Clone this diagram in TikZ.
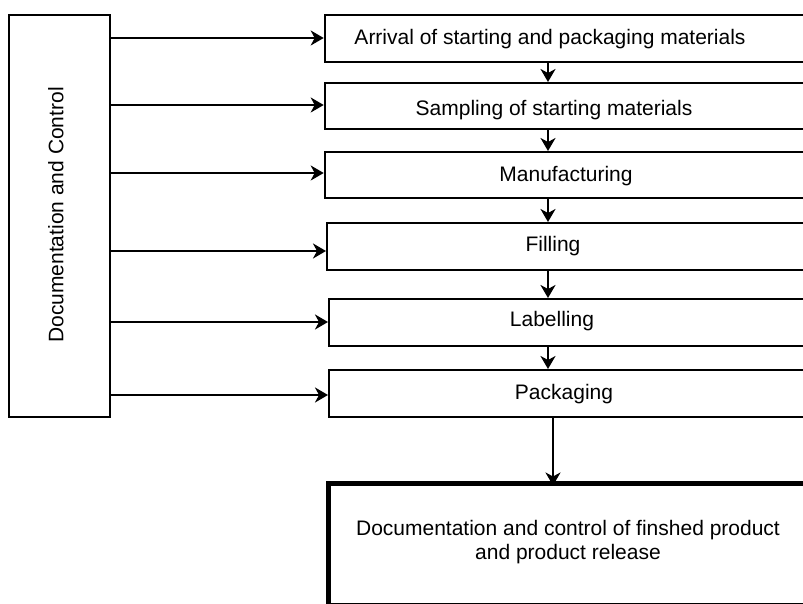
\documentclass[tikz,border=0pt]{standalone}
\usepackage{fontspec}
\setmainfont{Liberation Sans}
\usetikzlibrary{arrows.meta}
\begin{document}
\begin{tikzpicture}[x=1pt,y=-1pt,
  box/.style={draw=black,line width=2.2pt,rectangle,inner sep=0pt,anchor=north west,minimum width=520pt},
  bigbox/.style={draw=black,line width=1.5pt,rectangle,inner sep=0pt,anchor=north west,minimum width=520pt},
  thickedge/.style={line width=5pt,line cap=rect},
  lbl/.style={inner sep=0pt,anchor=base,font=\fontsize{21}{25}\selectfont},
  arr/.style={line width=2.2pt,-{Stealth[length=13pt,width=15pt,inset=4pt]}}]
\useasboundingbox (0,0) rectangle (803,604);
\clip (0,0) rectangle (803,604);
\fill[white] (0,0) rectangle (803,604);
% left box
\node[box,minimum width=101pt,minimum height=402pt] (dc) at (8,14) {};
\node[lbl,rotate=90] (dct) at (63.3,215) {Documentation and Control};
% right boxes
\node[box,minimum height=47pt] (b1) at (323.7,14) {};
\node[box,minimum height=46pt] (b2) at (323.7,82) {};
\node[box,minimum height=46pt] (b3) at (323.7,151) {};
\node[box,minimum height=47pt] (b4) at (326,222) {};
\node[box,minimum height=47pt] (b5) at (328,298) {};
\node[box,minimum height=47pt] (b6) at (328,369) {};
\node[bigbox,minimum height=119pt] (fin) at (328.5,483.5) {};
\draw[thickedge] (fin.south west) -- (fin.north west) -- (fin.north east);
% labels
\node[lbl] (t1) at (550,45) {Arrival of starting and packaging materials};
\node[lbl] (t2) at (554,116) {Sampling of starting materials};
\node[lbl] (t3) at (566,182) {Manufacturing};
\node[lbl] (t4) at (553,251.5) {Filling};
\node[lbl] (t5) at (552,326.5) {Labelling};
\node[lbl] (t6) at (564,399) {Packaging};
\node[lbl,align=center,font=\fontsize{21}{24.5}\selectfont] (t7) at (568,559.5) {Documentation and control of finshed product\\and product release};
% helper coordinates
\coordinate (vx) at (548,0);
\coordinate (vf) at (553,0);
\coordinate (h1) at (0,38);
\coordinate (h2) at (0,105);
\coordinate (h3) at (0,173);
\coordinate (h4) at (0,251);
\coordinate (h5) at (0,322);
\coordinate (h6) at (0,395);
% horizontal arrows
\draw[arr] (dc.east |- h1) -- (b1.west |- h1);
\draw[arr] (dc.east |- h2) -- (b2.west |- h2);
\draw[arr] (dc.east |- h3) -- (b3.west |- h3);
\draw[arr] (dc.east |- h4) -- (b4.west |- h4);
\draw[arr] (dc.east |- h5) -- (b5.west |- h5);
\draw[arr] (dc.east |- h6) -- (b6.west |- h6);
% vertical arrows
\draw[arr] (b1.south -| vx) -- (b2.north -| vx);
\draw[arr] (b2.south -| vx) -- (b3.north -| vx);
\draw[arr] (b3.south -| vx) -- (b4.north -| vx);
\draw[arr] (b4.south -| vx) -- (b5.north -| vx);
\draw[arr] (b5.south -| vx) -- (b6.north -| vx);
\draw[arr] (b6.south -| vf) -- ([yshift=-2pt]fin.north -| vf);
\end{tikzpicture}
\end{document}
